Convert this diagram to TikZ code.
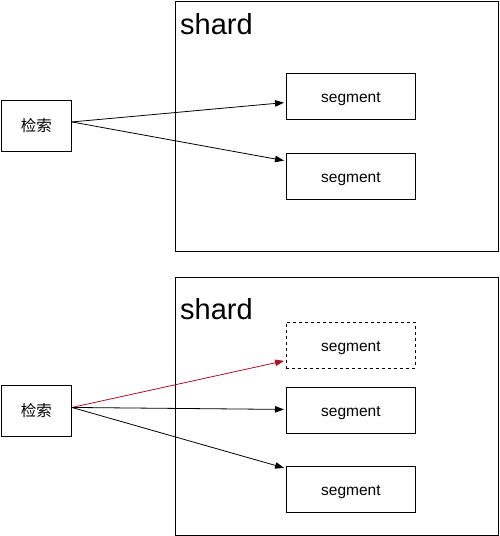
\documentclass[tikz,border=0pt]{standalone}
\usepackage{fontspec}
\setmainfont{Liberation Sans}
\newfontfamily\cjk{Noto Sans CJK SC}
\usetikzlibrary{arrows.meta}
\definecolor{arrred}{RGB}{165,20,40}
\tikzset{
  box/.style={draw, line width=0.9pt, inner sep=0pt, anchor=north west},
  shardbox/.style={box, minimum width=323pt, minimum height=250pt},
  segbox/.style={box, minimum width=129pt, minimum height=46pt, font=\fontsize{15.5}{17}\selectfont, text depth=0pt, text height=11.5pt},
  qbox/.style={box, minimum width=70pt, minimum height=51pt, font=\cjk\fontsize{15.5}{17}\selectfont},
  shardlabel/.style={anchor=north west, inner sep=0pt, font=\fontsize{29}{31}\selectfont},
  conn/.style={line width=0.8pt, -{Triangle[length=9pt,width=6.5pt]}, shorten >=2pt}
}
\begin{document}
\begin{tikzpicture}[x=1pt,y=-1pt]
\useasboundingbox (0,0) rectangle (499,536);
% top group
\node[shardbox] (shA) at (175,0.5) {};
\node[shardlabel] (lA) at (180,13) {shard};
\node[segbox] (a1) at (286,73) {segment};
\node[segbox] (a2) at (286,153) {segment};
\node[qbox] (qA) at (1,100) {检索};
\draw[conn] ([yshift=4pt]qA.east) -- ([yshift=-6pt]a1.west);
\draw[conn] ([yshift=4pt]qA.east) -- ([yshift=15.5pt]a2.west);
% bottom group
\node[shardbox, minimum height=258pt] (shB) at (175,277) {};
\node[shardlabel] (lB) at (180,298) {shard};
\node[segbox, dashed] (b1) at (286,322) {segment};
\node[segbox] (b2) at (286,387) {segment};
\node[segbox] (b3) at (286,466) {segment};
\node[qbox] (qB) at (1,385) {检索};
\draw[conn, arrred] ([yshift=3.5pt]qB.east) -- ([yshift=-15pt]b1.west);
\draw[conn] ([yshift=3.5pt]qB.east) -- ([yshift=1pt]b2.west);
\draw[conn] ([yshift=3.5pt]qB.east) -- ([yshift=21pt]b3.west);
\end{tikzpicture}
\end{document}
